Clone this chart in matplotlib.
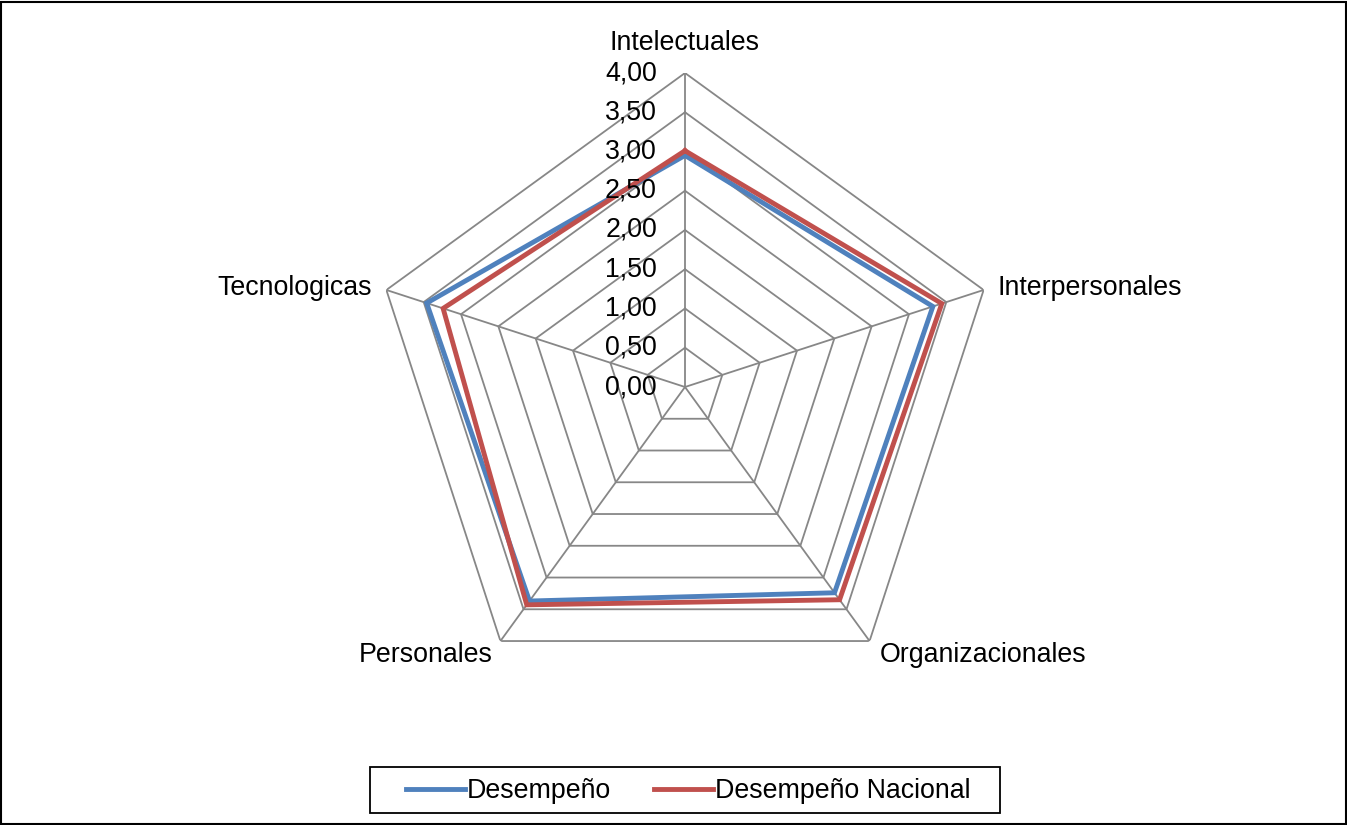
import numpy as np
import matplotlib
matplotlib.use('Agg')
import matplotlib.pyplot as plt
from matplotlib.transforms import offset_copy
from matplotlib.patches import Rectangle

plt.rcParams['font.family'] = ['Liberation Sans', 'DejaVu Sans']

categories = ['Intelectuales', 'Interpersonales', 'Organizacionales', 'Personales', 'Tecnologicas']
desempeno = [2.95, 3.32, 3.24, 3.37, 3.46]
desempeno_nacional = [3.01, 3.44, 3.35, 3.43, 3.24]
levels = [0.0, 0.5, 1.0, 1.5, 2.0, 2.5, 3.0, 3.5, 4.0]
level_labels = ['0,00', '0,50', '1,00', '1,50', '2,00', '2,50', '3,00', '3,50', '4,00']

W, H = 1347, 825
fig = plt.figure(figsize=(W / 100, H / 100), dpi=100)

# polar axes centred at (685, 387) px with radius 314 px
cx, cy, rad = 685, 387, 314
ax = fig.add_axes([(cx - rad) / W, (H - cy - rad) / H, 2 * rad / W, 2 * rad / H], polar=True)
ax.set_theta_zero_location('N')
ax.set_theta_direction(-1)
ax.set_ylim(0, 4)
ax.grid(False)
ax.spines['polar'].set_visible(False)
ax.set_xticks([])
ax.set_yticks([])
ax.patch.set_visible(False)

n = len(categories)
theta = np.linspace(0, 2 * np.pi, n, endpoint=False)
theta_c = np.append(theta, theta[0])

grid_col = '#878787'
for lv in levels[1:]:
    ax.plot(theta_c, [lv] * (n + 1), color=grid_col, lw=1.3, zorder=1)
for t in theta:
    ax.plot([t, t], [0, 4], color=grid_col, lw=1.3, zorder=1)

ax.plot(theta_c, desempeno + desempeno[:1], color='#4F81BD', lw=3.5, zorder=3,
        solid_joinstyle='miter', label='Desempeño')
ax.plot(theta_c, desempeno_nacional + desempeno_nacional[:1], color='#C0504D', lw=3.5, zorder=4,
        solid_joinstyle='miter', label='Desempeño Nacional')

fs = 19.3
# radial tick labels to the left of the top spoke
tr = offset_copy(ax.transData, fig=fig, x=-28, y=0, units='dots')
for lv, lab in zip(levels, level_labels):
    ax.text(0, lv, lab, transform=tr, ha='right', va='center', fontsize=fs, zorder=5)

# category labels
offs = [(0, 30, 'center', 'center'), (14, 2, 'left', 'center'), (10, -14, 'left', 'center'),
        (-8, -14, 'right', 'center'), (-14, 2, 'right', 'center')]
for t, cat, (dx, dy, ha, va) in zip(theta, categories, offs):
    trc = offset_copy(ax.transData, fig=fig, x=dx, y=dy, units='dots')
    ax.text(t, 4, cat, transform=trc, ha=ha, va=va, fontsize=fs)

leg = fig.legend(loc='center', bbox_to_anchor=(688 / W, 1 - 791 / H), ncol=2, fontsize=fs,
                 frameon=False, handlelength=2.2, handletextpad=0.08, columnspacing=1.6,
                 borderpad=0, borderaxespad=0)

# legend box (wider padding than matplotlib's default frame)
fig.patches.append(Rectangle((370 / W, 1 - 813 / H), 630 / W, 46 / H, transform=fig.transFigure,
                             fill=False, edgecolor='black', lw=1.3))

fig.patches.append(Rectangle((0.001, 0.001), 0.998, 0.997, transform=fig.transFigure,
                             fill=False, edgecolor='black', lw=1.5))

fig.savefig('out.png', dpi=100)
